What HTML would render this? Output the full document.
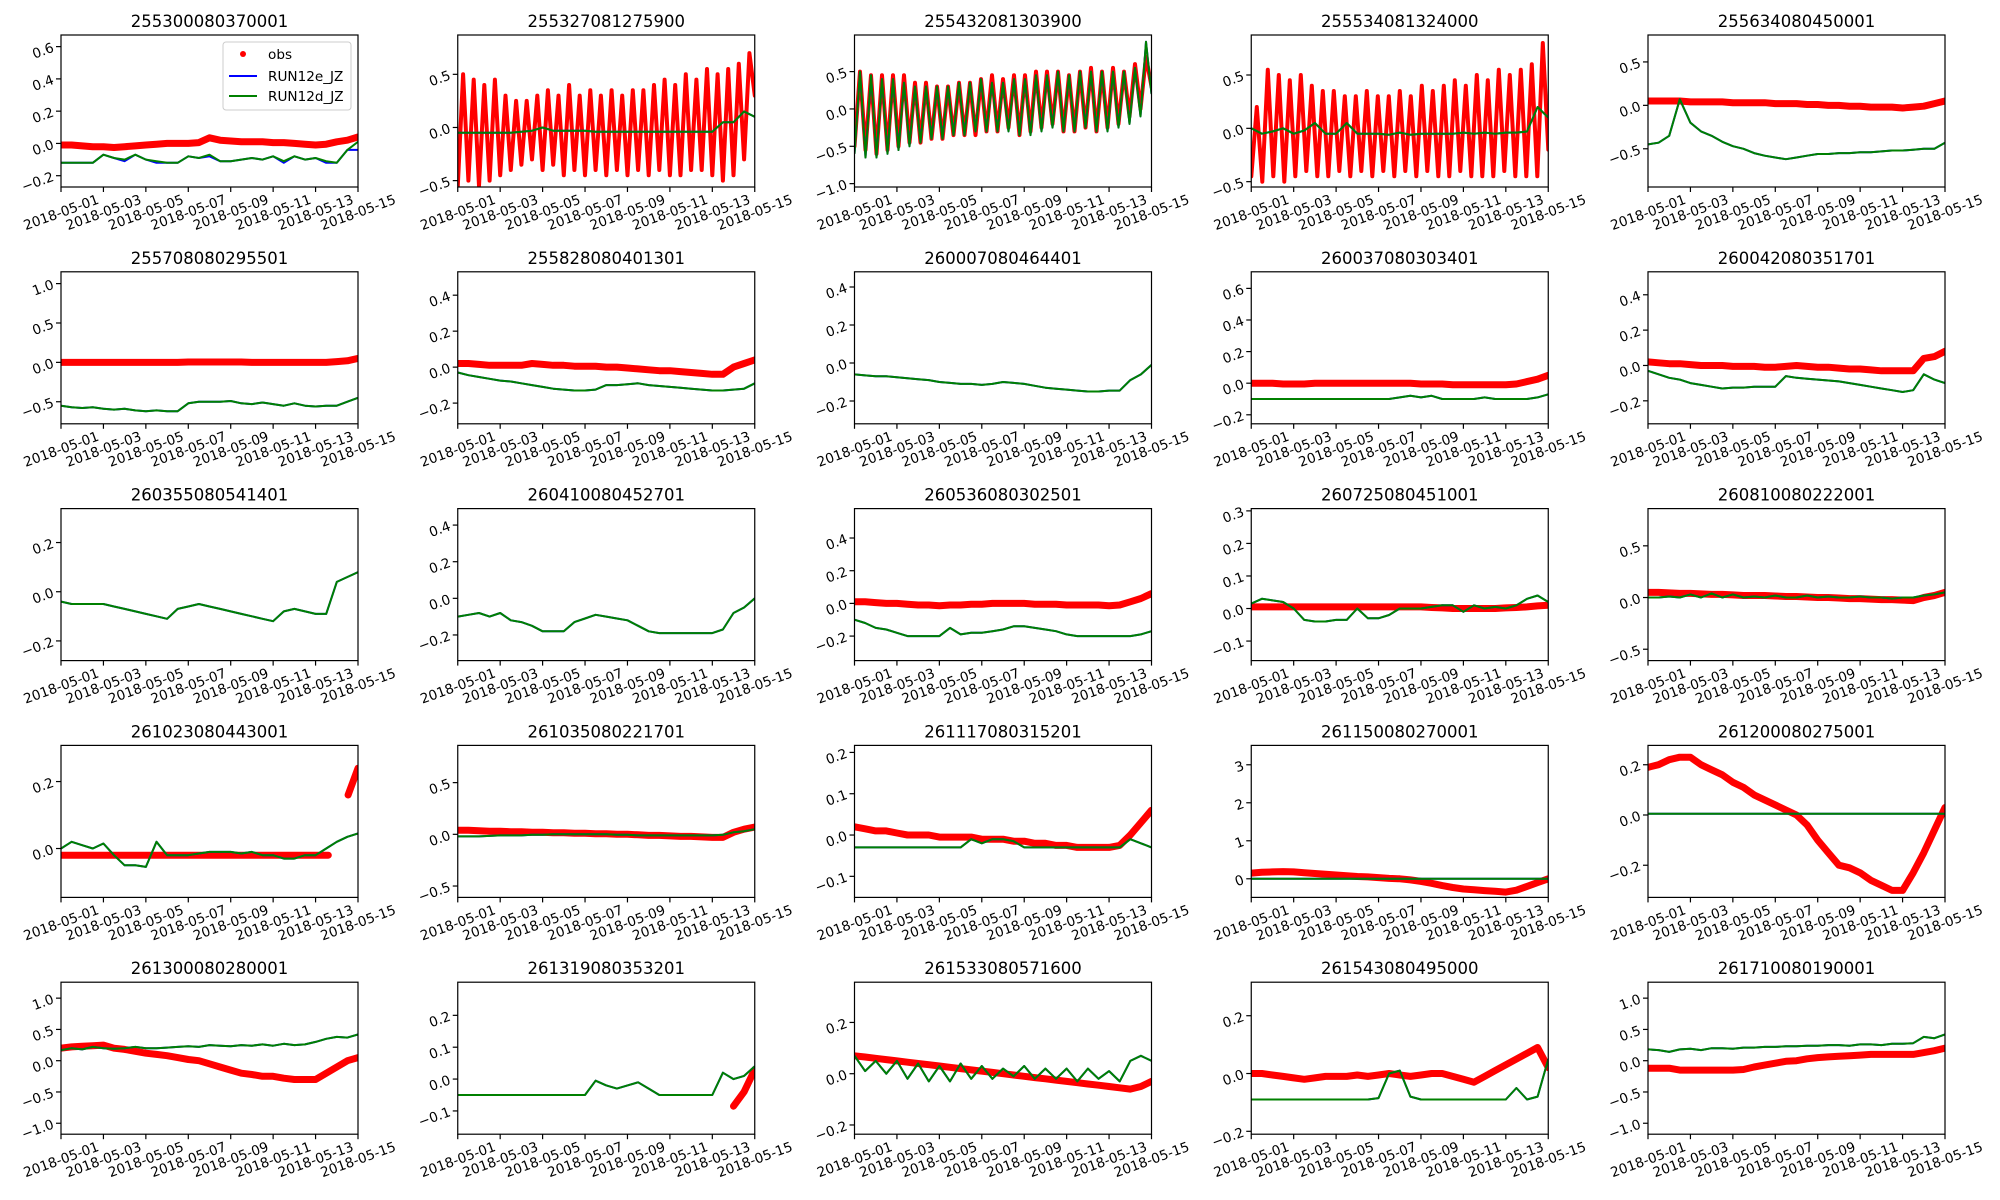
<!DOCTYPE html>
<html><head><meta charset="utf-8"><style>
html,body{margin:0;padding:0;background:#fff}
svg{display:block;font-family:"DejaVu Sans","Liberation Sans",sans-serif}
</style></head><body>
<svg id="fig" width="2000" height="1200" viewBox="0 0 2000 1200" xmlns="http://www.w3.org/2000/svg"></svg>
<script>
const titles=["255300080370001","255327081275900","255432081303900","255534081324000","255634080450001","255708080295501","255828080401301","260007080464401","260037080303401","260042080351701","260355080541401","260410080452701","260536080302501","260725080451001","260810080222001","261023080443001","261035080221701","261117080315201","261150080270001","261200080275001","261300080280001","261319080353201","261533080571600","261543080495000","261710080190001"];
const xTickLabels=["2018-05-01","2018-05-03","2018-05-05","2018-05-07","2018-05-09","2018-05-11","2018-05-13","2018-05-15"];
const xTickDays=[0,2,4,6,8,10,12,14];
const yLo=[-0.27,-0.56,-1.045,-0.55,-0.94,-0.78,-0.315,-0.32,-0.257,-0.33,-0.28,-0.34,-0.35,-0.16,-0.61,-0.146,-0.61,-0.151,-0.49,-0.328,-1.175,-0.173,-0.236,-0.21,-1.175];
const yHi=[0.672,0.87,0.99,0.875,0.81,1.15,0.53,0.48,0.705,0.53,0.338,0.49,0.58,0.307,0.86,0.308,0.86,0.217,3.51,0.277,1.255,0.304,0.357,0.316,1.255];
const yTicks=[[-0.2,0,0.2,0.4,0.6],[-0.5,0,0.5],[-1,-0.5,0,0.5],[-0.5,0,0.5],[-0.5,0,0.5],[-0.5,0,0.5,1],[-0.2,0,0.2,0.4],[-0.2,0,0.2,0.4],[-0.2,0,0.2,0.4,0.6],[-0.2,0,0.2,0.4],[-0.2,0,0.2],[-0.2,0,0.2,0.4],[-0.2,0,0.2,0.4],[-0.1,0,0.1,0.2,0.3],[-0.5,0,0.5],[0,0.2],[-0.5,0,0.5],[-0.1,0,0.1,0.2],[0,1,2,3],[-0.2,0,0.2],[-1,-0.5,0,0.5,1],[-0.1,0,0.1,0.2],[-0.2,0,0.2],[-0.2,0,0.2],[-1,-0.5,0,0.5,1]];
const yDec=[1,1,1,1,1,1,1,1,1,1,1,1,1,1,1,1,1,1,0,1,1,1,1,1,1];

const obs1=[-0.01,-0.01,-0.015,-0.02,-0.02,-0.025,-0.02,-0.015,-0.01,-0.005,0,0,0,0.005,0.035,0.02,0.015,0.01,0.01,0.01,0.005,0.005,0,-0.005,-0.01,-0.005,0.01,0.02,0.04];
const runD1=[-0.12,-0.12,-0.12,-0.12,-0.07,-0.09,-0.1,-0.07,-0.1,-0.11,-0.12,-0.12,-0.08,-0.09,-0.07,-0.11,-0.11,-0.1,-0.09,-0.1,-0.08,-0.11,-0.08,-0.1,-0.09,-0.11,-0.12,-0.04,0.01];
const runE1=[-0.12,-0.12,-0.12,-0.12,-0.07,-0.09,-0.11,-0.07,-0.1,-0.12,-0.12,-0.12,-0.08,-0.09,-0.08,-0.11,-0.11,-0.1,-0.09,-0.1,-0.08,-0.12,-0.08,-0.1,-0.09,-0.12,-0.12,-0.04,-0.04];
const obs2=[-0.55,0.5,-0.5,0.45,-0.55,0.4,-0.5,0.45,-0.45,0.3,-0.4,0.25,-0.35,0.25,-0.3,0.3,-0.4,0.35,-0.35,0.3,-0.45,0.4,-0.4,0.3,-0.45,0.35,-0.4,0.3,-0.45,0.35,-0.4,0.3,-0.45,0.35,-0.4,0.35,-0.45,0.4,-0.4,0.45,-0.45,0.4,-0.45,0.5,-0.4,0.45,-0.4,0.55,-0.45,0.5,-0.5,0.55,-0.45,0.6,-0.3,0.7,0.3];
const runD2=[-0.05,-0.05,-0.05,-0.05,-0.05,-0.05,-0.04,-0.03,0,-0.03,-0.03,-0.03,-0.03,-0.04,-0.04,-0.04,-0.04,-0.04,-0.04,-0.04,-0.04,-0.04,-0.04,-0.04,-0.04,0.05,0.05,0.15,0.1];
const runE2=runD2;
const obs3=[-0.5,0.5,-0.55,0.45,-0.6,0.45,-0.55,0.45,-0.5,0.45,-0.45,0.35,-0.45,0.35,-0.4,0.3,-0.4,0.3,-0.35,0.35,-0.35,0.35,-0.35,0.4,-0.3,0.45,-0.3,0.4,-0.25,0.45,-0.35,0.45,-0.3,0.5,-0.25,0.5,-0.2,0.5,-0.3,0.45,-0.3,0.5,-0.25,0.55,-0.3,0.5,-0.25,0.55,-0.2,0.5,-0.1,0.6,0,0.7,0.3];
const runD3=[-0.6,0.5,-0.65,0.45,-0.65,0.4,-0.6,0.4,-0.55,0.35,-0.5,0.3,-0.45,0.3,-0.4,0.3,-0.4,0.3,-0.35,0.35,-0.35,0.35,-0.3,0.4,-0.3,0.35,-0.3,0.35,-0.3,0.4,-0.35,0.4,-0.35,0.45,-0.3,0.45,-0.25,0.5,-0.3,0.45,-0.3,0.5,-0.25,0.5,-0.3,0.5,-0.3,0.5,-0.25,0.5,-0.2,0.55,-0.1,0.9,0.2];
const runE3=runD3;
const obs4=[-0.45,0.2,-0.5,0.55,-0.45,0.5,-0.5,0.45,-0.45,0.5,-0.4,0.4,-0.45,0.35,-0.45,0.35,-0.4,0.3,-0.45,0.3,-0.4,0.35,-0.45,0.3,-0.4,0.3,-0.45,0.35,-0.4,0.3,-0.45,0.4,-0.4,0.35,-0.45,0.4,-0.45,0.45,-0.4,0.4,-0.45,0.5,-0.45,0.45,-0.45,0.55,-0.4,0.5,-0.45,0.55,-0.45,0.6,-0.45,0.8,-0.2];
const runD4=[0,-0.05,-0.03,0,-0.05,-0.02,0.05,-0.05,-0.05,0.05,-0.05,-0.05,-0.05,-0.06,-0.04,-0.06,-0.05,-0.05,-0.05,-0.05,-0.04,-0.05,-0.04,-0.05,-0.04,-0.04,-0.03,0.2,0.1];
const runE4=runD4;
const obs5=[0.05,0.05,0.05,0.05,0.04,0.04,0.04,0.04,0.03,0.03,0.03,0.03,0.02,0.02,0.02,0.01,0.01,0,0,-0.01,-0.01,-0.02,-0.02,-0.02,-0.03,-0.02,-0.01,0.02,0.05];
const runD5=[-0.45,-0.43,-0.35,0.07,-0.2,-0.3,-0.35,-0.42,-0.47,-0.5,-0.55,-0.58,-0.6,-0.62,-0.6,-0.58,-0.56,-0.56,-0.55,-0.55,-0.54,-0.54,-0.53,-0.52,-0.52,-0.51,-0.5,-0.5,-0.43];
const runE5=runD5;
const obs6=[0,0,0,0,0,0,0,0,0,0,0,0,0.005,0.005,0.005,0.005,0.005,0.005,0,0,0,0,0,0,0,0,0.01,0.02,0.05];
const runD6=[-0.55,-0.57,-0.58,-0.57,-0.59,-0.6,-0.59,-0.61,-0.62,-0.61,-0.62,-0.62,-0.52,-0.5,-0.5,-0.5,-0.49,-0.52,-0.53,-0.51,-0.53,-0.55,-0.52,-0.55,-0.56,-0.55,-0.55,-0.5,-0.45];
const runE6=runD6;
const obs7=[0.02,0.02,0.015,0.01,0.01,0.01,0.01,0.02,0.015,0.01,0.01,0.005,0.005,0.005,0,0,-0.005,-0.01,-0.015,-0.02,-0.02,-0.025,-0.03,-0.035,-0.04,-0.04,0,0.02,0.04];
const runD7=[-0.03,-0.045,-0.055,-0.065,-0.075,-0.08,-0.09,-0.1,-0.11,-0.12,-0.125,-0.13,-0.13,-0.125,-0.1,-0.1,-0.095,-0.09,-0.1,-0.105,-0.11,-0.115,-0.12,-0.125,-0.13,-0.13,-0.125,-0.12,-0.09];
const runE7=runD7;
const obs8=[];
const runD8=[-0.06,-0.065,-0.07,-0.07,-0.075,-0.08,-0.085,-0.09,-0.1,-0.105,-0.11,-0.11,-0.115,-0.11,-0.1,-0.105,-0.11,-0.12,-0.13,-0.135,-0.14,-0.145,-0.15,-0.15,-0.145,-0.145,-0.09,-0.06,-0.01];
const runE8=runD8;
const obs9=[0,0,0,-0.005,-0.005,-0.005,0,0,0,0,0,0,0,0,0,0,-0.005,-0.005,-0.005,-0.01,-0.01,-0.01,-0.01,-0.01,-0.01,-0.005,0.01,0.025,0.05];
const runD9=[-0.1,-0.1,-0.1,-0.1,-0.1,-0.1,-0.1,-0.1,-0.1,-0.1,-0.1,-0.1,-0.1,-0.1,-0.09,-0.08,-0.09,-0.08,-0.1,-0.1,-0.1,-0.1,-0.09,-0.1,-0.1,-0.1,-0.1,-0.09,-0.07];
const runE9=runD9;
const obs10=[0.02,0.015,0.01,0.01,0.005,0,0,0,-0.005,-0.005,-0.005,-0.01,-0.01,-0.005,0,-0.005,-0.01,-0.01,-0.015,-0.02,-0.02,-0.025,-0.03,-0.03,-0.03,-0.03,0.04,0.05,0.08];
const runD10=[-0.03,-0.05,-0.07,-0.08,-0.1,-0.11,-0.12,-0.13,-0.125,-0.125,-0.12,-0.12,-0.12,-0.06,-0.07,-0.075,-0.08,-0.085,-0.09,-0.1,-0.11,-0.12,-0.13,-0.14,-0.15,-0.14,-0.05,-0.08,-0.1];
const runE10=runD10;
const obs11=[];
const runD11=[-0.04,-0.05,-0.05,-0.05,-0.05,-0.06,-0.07,-0.08,-0.09,-0.1,-0.11,-0.07,-0.06,-0.05,-0.06,-0.07,-0.08,-0.09,-0.1,-0.11,-0.12,-0.08,-0.07,-0.08,-0.09,-0.09,0.04,0.06,0.08];
const runE11=runD11;
const obs12=[];
const runD12=[-0.1,-0.09,-0.08,-0.1,-0.08,-0.12,-0.13,-0.15,-0.18,-0.18,-0.18,-0.13,-0.11,-0.09,-0.1,-0.11,-0.12,-0.15,-0.18,-0.19,-0.19,-0.19,-0.19,-0.19,-0.19,-0.17,-0.08,-0.05,0];
const runE12=runD12;
const obs13=[0.01,0.01,0.005,0,0,-0.005,-0.01,-0.01,-0.015,-0.01,-0.01,-0.005,-0.005,0,0,0,0,-0.005,-0.005,-0.005,-0.01,-0.01,-0.01,-0.01,-0.015,-0.01,0.01,0.03,0.06];
const runD13=[-0.1,-0.12,-0.15,-0.16,-0.18,-0.2,-0.2,-0.2,-0.2,-0.15,-0.19,-0.18,-0.18,-0.17,-0.16,-0.14,-0.14,-0.15,-0.16,-0.17,-0.19,-0.2,-0.2,-0.2,-0.2,-0.2,-0.2,-0.19,-0.17];
const runE13=runD13;
const obs14=[0.005,0.005,0.005,0.005,0.005,0.005,0.005,0.005,0.005,0.005,0.005,0.005,0.005,0.005,0.005,0.005,0.005,0.003,0.002,0,0,0,0,0,0.002,0.003,0.005,0.008,0.01];
const runD14=[0.015,0.03,0.025,0.02,0,-0.035,-0.04,-0.04,-0.035,-0.035,0,-0.03,-0.03,-0.02,0,0,0,0.005,0.01,0.01,-0.01,0.01,0,0.005,0,0.01,0.03,0.04,0.02];
const runE14=runD14;
const obs15=[0.05,0.05,0.045,0.04,0.04,0.035,0.03,0.03,0.025,0.02,0.02,0.02,0.015,0.01,0.01,0.005,0,0,-0.005,-0.01,-0.01,-0.015,-0.02,-0.02,-0.025,-0.03,0,0.02,0.05];
const runD15=[0,0,0.01,0,0.03,0,0.04,0,0.03,0,0.01,0,0.02,0,0,0.02,0,0.01,0,0,0.01,0,0,-0.01,0,0,0.02,0.03,0.05];
const runE15=runD15;
const obs16=[-0.02,-0.02,-0.02,-0.02,-0.02,-0.02,-0.02,-0.02,-0.02,-0.02,-0.02,-0.02,-0.02,-0.02,-0.02,-0.02,-0.02,-0.02,-0.02,-0.02,-0.02,-0.02,-0.02,-0.02,-0.02,-0.02,-0.02,-0.02,null,0.16,0.24];
const runD16=[0,0.02,0.01,0,0.015,-0.02,-0.05,-0.05,-0.055,0.02,-0.02,-0.02,-0.02,-0.015,-0.01,-0.01,-0.01,-0.015,-0.01,-0.02,-0.02,-0.03,-0.03,-0.02,-0.02,0,0.02,0.035,0.045];
const runE16=runD16;
const obs17=[0.04,0.04,0.035,0.03,0.03,0.025,0.025,0.02,0.02,0.015,0.015,0.01,0.01,0.005,0.005,0,0,-0.005,-0.01,-0.01,-0.015,-0.02,-0.02,-0.025,-0.03,-0.03,0.02,0.05,0.07];
const runD17=[-0.02,-0.02,-0.02,-0.015,-0.01,-0.01,-0.01,-0.005,-0.005,0,0,0,0,0,0,-0.005,-0.005,-0.01,-0.01,-0.01,-0.01,-0.01,-0.01,-0.01,-0.01,-0.005,0.02,0.03,0.05];
const runE17=runD17;
const obs18=[0.02,0.015,0.01,0.01,0.005,0,0,0,-0.005,-0.005,-0.005,-0.005,-0.01,-0.01,-0.01,-0.015,-0.015,-0.02,-0.02,-0.025,-0.025,-0.03,-0.03,-0.03,-0.03,-0.025,0,0.03,0.06];
const runD18=[-0.03,-0.03,-0.03,-0.03,-0.03,-0.03,-0.03,-0.03,-0.03,-0.03,-0.03,-0.01,-0.02,-0.01,-0.01,-0.015,-0.03,-0.03,-0.03,-0.03,-0.03,-0.03,-0.03,-0.03,-0.03,-0.03,-0.01,-0.02,-0.03];
const runE18=runD18;
const obs19=[0.15,0.17,0.18,0.19,0.18,0.16,0.14,0.12,0.1,0.08,0.06,0.05,0.03,0.01,0,-0.03,-0.07,-0.12,-0.18,-0.23,-0.27,-0.29,-0.31,-0.33,-0.35,-0.3,-0.2,-0.1,0];
const runD19=[0,0,0,0,0,0,0,0,0,0,0,0,0,0,0,0,0,0,0,0,0,0,0,0,0,0,0,0,0];
const runE19=runD19;
const obs20=[0.19,0.2,0.22,0.23,0.23,0.2,0.18,0.16,0.13,0.11,0.08,0.06,0.04,0.02,0,-0.04,-0.1,-0.15,-0.2,-0.21,-0.23,-0.26,-0.28,-0.3,-0.3,-0.23,-0.15,-0.06,0.03];
const runD20=[0.005,0.005,0.005,0.005,0.005,0.005,0.005,0.005,0.005,0.005,0.005,0.005,0.005,0.005,0.005,0.005,0.005,0.005,0.005,0.005,0.005,0.005,0.005,0.005,0.005,0.005,0.005,0.005,0.005];
const runE20=runD20;
const obs21=[0.2,0.22,0.23,0.24,0.25,0.2,0.18,0.15,0.12,0.1,0.08,0.05,0.02,0,-0.05,-0.1,-0.15,-0.2,-0.22,-0.25,-0.25,-0.28,-0.3,-0.3,-0.3,-0.2,-0.1,0,0.05];
const runD21=[0.17,0.2,0.18,0.22,0.2,0.19,0.2,0.22,0.2,0.2,0.21,0.22,0.23,0.22,0.25,0.24,0.23,0.25,0.24,0.26,0.24,0.27,0.25,0.26,0.3,0.35,0.38,0.37,0.42];
const runE21=runD21;
const obs22=[null,null,null,null,null,null,null,null,null,null,null,null,null,null,null,null,null,null,null,null,null,null,null,null,null,null,-0.085,-0.04,0.03];
const runD22=[-0.05,-0.05,-0.05,-0.05,-0.05,-0.05,-0.05,-0.05,-0.05,-0.05,-0.05,-0.05,-0.05,-0.005,-0.02,-0.03,-0.02,-0.01,-0.03,-0.05,-0.05,-0.05,-0.05,-0.05,-0.05,0.02,0,0.01,0.04];
const runE22=runD22;
const obs23=[0.07,0.065,0.06,0.055,0.05,0.045,0.04,0.035,0.03,0.025,0.02,0.015,0.01,0.005,0,-0.005,-0.01,-0.015,-0.02,-0.025,-0.03,-0.035,-0.04,-0.045,-0.05,-0.055,-0.06,-0.05,-0.03];
const runD23=[0.07,0.01,0.05,0,0.05,-0.02,0.04,-0.03,0.03,-0.03,0.04,-0.02,0.03,-0.02,0.02,-0.01,0.03,-0.02,0.02,-0.02,0.02,-0.03,0.02,-0.02,0.01,-0.03,0.05,0.07,0.05];
const runE23=runD23;
const obs24=[0,0,-0.005,-0.01,-0.015,-0.02,-0.015,-0.01,-0.01,-0.01,-0.005,-0.01,-0.005,0,-0.005,-0.01,-0.005,0,0,-0.01,-0.02,-0.03,-0.01,0.01,0.03,0.05,0.07,0.09,0.02];
const runD24=[-0.09,-0.09,-0.09,-0.09,-0.09,-0.09,-0.09,-0.09,-0.09,-0.09,-0.09,-0.09,-0.085,0,0.01,-0.08,-0.09,-0.09,-0.09,-0.09,-0.09,-0.09,-0.09,-0.09,-0.09,-0.05,-0.09,-0.08,0.05];
const runE24=runD24;
const obs25=[-0.12,-0.12,-0.12,-0.15,-0.15,-0.15,-0.15,-0.15,-0.15,-0.14,-0.1,-0.07,-0.04,-0.01,0,0.03,0.05,0.06,0.07,0.08,0.09,0.1,0.1,0.1,0.1,0.1,0.13,0.16,0.2];
const runD25=[0.18,0.17,0.14,0.18,0.19,0.17,0.2,0.2,0.19,0.21,0.21,0.22,0.22,0.23,0.23,0.24,0.24,0.25,0.25,0.24,0.26,0.26,0.25,0.27,0.27,0.28,0.38,0.36,0.42];
const runE25=runD25;

const OBS=[obs1,obs2,obs3,obs4,obs5,obs6,obs7,obs8,obs9,obs10,obs11,obs12,obs13,obs14,obs15,obs16,obs17,obs18,obs19,obs20,obs21,obs22,obs23,obs24,obs25];
const RUNE=[runE1,runE2,runE3,runE4,runE5,runE6,runE7,runE8,runE9,runE10,runE11,runE12,runE13,runE14,runE15,runE16,runE17,runE18,runE19,runE20,runE21,runE22,runE23,runE24,runE25];
const RUND=[runD1,runD2,runD3,runD4,runD5,runD6,runD7,runD8,runD9,runD10,runD11,runD12,runD13,runD14,runD15,runD16,runD17,runD18,runD19,runD20,runD21,runD22,runD23,runD24,runD25];

const NS="http://www.w3.org/2000/svg";
const fig=document.getElementById('fig');
function mk(tag,attrs,parent){const e=document.createElementNS(NS,tag);for(const k in attrs)e.setAttribute(k,attrs[k]);(parent||fig).appendChild(e);return e;}
const W=297,H=152;
function fmt(v,d){const s=Math.abs(v).toFixed(d);return (v<0?"\u2212":"")+s;}
function pathFor(arr,sx,sy){let d="",pen=false;const n=arr.length;
  for(let i=0;i<n;i++){const v=arr[i];if(v===null||v===undefined){pen=false;continue;}
    const x=sx(i*14/(n-1)),y=sy(v);d+=(pen?"L":"M")+x.toFixed(1)+" "+y.toFixed(1);pen=true;}
  return d;}
for(let p=0;p<25;p++){
  const col=p%5,row=Math.floor(p/5);
  const L=61+col*396.75,T=35+row*236.8;
  const g=mk('g',{});
  
  
  const lo=yLo[p],hi=yHi[p];
  const sx=d=>L+d/14*W, sy=v=>T+H-(v-lo)/(hi-lo)*H;
  const cid='c'+p;
  const cp=mk('clipPath',{id:cid},g);mk('rect',{x:L,y:T,width:W,height:H},cp);
  const plot=mk('g',{'clip-path':'url(#'+cid+')'},g);
  const o=OBS[p];
  if(o.length){
    const sw=o.length>40?4:7;
    const op=mk('path',{d:pathFor(o,sx,sy),fill:'none',stroke:'#ff0000','stroke-width':sw,'stroke-linejoin':'round','stroke-linecap':'round'},plot);
    
    
  }
  const be=mk('path',{d:pathFor(RUNE[p],sx,sy),fill:'none',stroke:'#0000ff','stroke-width':2,'stroke-linejoin':'round'},plot);
  
  
  const gd=mk('path',{d:pathFor(RUND[p],sx,sy),fill:'none',stroke:'#008000','stroke-width':2,'stroke-linejoin':'round'},plot);
  
  
  const fr=mk('rect',{x:L,y:T,width:W,height:H,fill:'none',stroke:'#000','stroke-width':1.2},g);
  
  
  const tt=mk('text',{x:L+W/2,y:T-8,'text-anchor':'middle','font-size':16.5,fill:'#000'},g);
  tt.textContent=titles[p];
  
  
  for(let k=0;k<xTickDays.length;k++){
    const x=sx(xTickDays[k]);
    mk('line',{x1:x,y1:T+H,x2:x,y2:T+H+5,stroke:'#000','stroke-width':1.2},g);
    const t=mk('text',{x:x,y:T+H+30,'text-anchor':'middle','font-size':13.6,fill:'#000',transform:'rotate(-20 '+x+' '+(T+H+25)+')'},g);
    t.textContent=xTickLabels[k];
    
    
  }
  for(const v of yTicks[p]){
    const y=sy(v);
    mk('line',{x1:L-5,y1:y,x2:L,y2:y,stroke:'#000','stroke-width':1.2},g);
    const t=mk('text',{x:L-8,y:y+5,'text-anchor':'end','font-size':13.6,fill:'#000',transform:'rotate(-20 '+(L-8)+' '+y+')'},g);
    t.textContent=fmt(v,yDec[p]);
    
    
  }
}
const lg=mk('g',{});


mk('rect',{x:223,y:42,width:128,height:68,rx:3,fill:'#fff','fill-opacity':0.8,stroke:'#ccc','stroke-width':1},lg);
mk('circle',{cx:243,cy:54,r:3,fill:'#ff0000'},lg);
mk('line',{x1:229,y1:76,x2:257,y2:76,stroke:'#0000ff','stroke-width':2},lg);
mk('line',{x1:229,y1:96,x2:257,y2:96,stroke:'#008000','stroke-width':2},lg);
const labs=[["obs",59],["RUN12e_JZ",81],["RUN12d_JZ",101]];
for(const [s,y] of labs){const t=mk('text',{x:268,y:y,'font-size':13.6,fill:'#000'},lg);t.textContent=s;
  
  }
</script>
</body></html>
